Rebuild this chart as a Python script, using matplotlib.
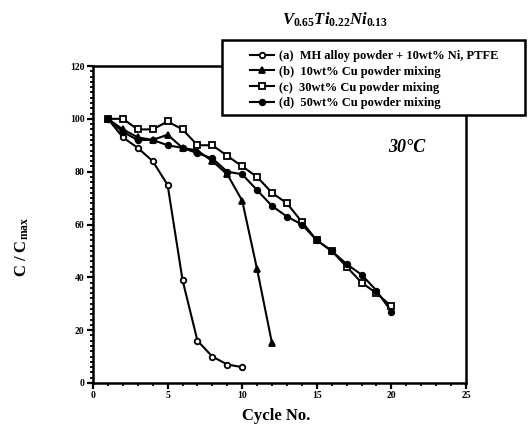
import numpy as np
import matplotlib
matplotlib.use("Agg")
import matplotlib.pyplot as plt
from matplotlib.patches import Rectangle
from matplotlib.ticker import MultipleLocator

plt.rcParams['font.family'] = ['Liberation Serif', 'DejaVu Serif']
plt.rcParams['font.weight'] = 'bold'
plt.rcParams['mathtext.fontset'] = 'custom'
plt.rcParams['mathtext.rm'] = 'Liberation Serif:bold'
plt.rcParams['mathtext.bf'] = 'Liberation Serif:bold'
plt.rcParams['mathtext.it'] = 'Liberation Serif:bold:italic'

# capacity retention C/Cmax (%) vs cycle number
cycles_a = [1, 2, 3, 4, 5, 6, 7, 8, 9, 10]
ret_a = [100, 93, 89, 84, 75, 39, 16, 10, 7, 6]

cycles_b = [1, 2, 3, 4, 5, 6, 7, 8, 9, 10, 11, 12]
ret_b = [100, 96, 93, 92, 94, 89, 88, 84, 79, 69, 43, 15]

cycles_cd = list(range(1, 21))
ret_c = [100, 100, 96, 96, 99, 96, 90, 90, 86, 82, 78, 72, 68, 61, 54, 50, 44, 38, 34, 29]
ret_d = [100, 95, 92, 92, 90, 89, 87, 85, 80, 79, 73, 67, 63, 60, 54, 50, 45, 41, 35, 27]

labels = ['(a)  MH alloy powder + 10wt% Ni, PTFE',
          '(b)  10wt% Cu powder mixing',
          '(c)  30wt% Cu powder mixing',
          '(d)  50wt% Cu powder mixing']

W, H = 531, 430
fig = plt.figure(figsize=(W / 100, H / 100), dpi=100)
ax = fig.add_axes([93 / W, 1 - 383 / H, (466 - 93) / W, (383 - 66) / H])

kw = dict(color='black', lw=1.5, ms=4, mew=1.3)
la, = ax.plot(cycles_a, ret_a, marker='o', mfc='white', **kw)
lb, = ax.plot(cycles_b, ret_b, marker='^', mfc='black', **kw)
lc, = ax.plot(cycles_cd, ret_c, marker='s', mfc='white', **kw)
ld, = ax.plot(cycles_cd, ret_d, marker='o', mfc='black', **kw)

ax.set_xlim(0, 25)
ax.set_ylim(0, 120)
ax.xaxis.set_major_locator(MultipleLocator(5))
ax.xaxis.set_minor_locator(MultipleLocator(1))
ax.yaxis.set_major_locator(MultipleLocator(20))
ax.yaxis.set_minor_locator(MultipleLocator(2))
ax.tick_params(which='major', direction='out', length=4, width=1.6, labelsize=7, pad=2)
ax.tick_params(which='minor', direction='out', length=2.5, width=1.3)
for lab in ax.get_xticklabels() + ax.get_yticklabels():
    lab.set_fontweight('bold')
for s in ax.spines.values():
    s.set_linewidth(1.8)

ax.set_xlabel('Cycle No.', fontsize=12, fontweight='bold')
ax.xaxis.set_label_coords(0.49, -0.08)
ax.set_ylabel(r'C / C$_{\mathbf{max}}$', fontsize=12, fontweight='bold')
ax.yaxis.set_label_coords(-0.165, 0.43)

ax.text(21, 89, '30°C', fontsize=13, fontweight='bold', style='italic',
        ha='center', va='center')

fig.text(335 / W, 1 - 20 / H, r'$\mathit{V_{0.65}Ti_{0.22}Ni_{0.13}}$',
         fontsize=12, ha='center', va='center')

# legend box sits on top of the axes corner
box = Rectangle((222 / W, 1 - 115 / H), (525 - 222) / W, (115 - 40) / H,
                transform=fig.transFigure, facecolor='white', edgecolor='black',
                lw=1.8, zorder=5)
fig.add_artist(box)
leg = fig.legend([la, lb, lc, ld], labels, loc='upper left',
                 bbox_to_anchor=(250 / W, 1 - 50 / H), frameon=False,
                 fontsize=9, handlelength=1.9, handletextpad=0.4,
                 labelspacing=0.3, borderpad=0, borderaxespad=0)
leg.set_zorder(6)
for t in leg.get_texts():
    t.set_fontweight('bold')

fig.savefig('out.png', dpi=100)
